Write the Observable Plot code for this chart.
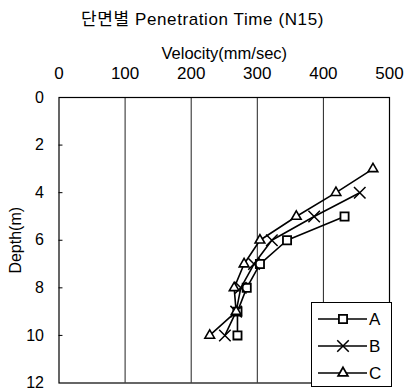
<!DOCTYPE html>
<html>
<head>
<meta charset="utf-8">
<script src="https://cdn.jsdelivr.net/npm/d3@7"></script>
<script src="https://cdn.jsdelivr.net/npm/@observablehq/plot@0.6"></script>
<style>
  html, body { margin: 0; padding: 0; background: #fff; }
  #wrap { position: relative; width: 405px; height: 391px; font-family: "Liberation Sans", Arial, "Noto Sans CJK KR", sans-serif; color: #000; }
  #title { position: absolute; left: 0; top: 5px; width: 405px; text-align: center; font-size: 17px; letter-spacing: 0.6px; white-space: nowrap; }
  #chart { position: absolute; left: 0; top: 0; }
  #legend { position: absolute; left: 0; top: 0; pointer-events: none; }
</style>
</head>
<body>
<div id="wrap">
  <div id="chart"></div>
  <div id="title">단면별 Penetration Time (N15)</div>
  <svg id="legend" width="405" height="391"></svg>
</div>
<script>
// Velocity (mm/sec) measured at each depth (m), one series per section
const seriesNames = ["A", "B", "C"];
const depthA = [5, 6, 7, 8, 9, 10];
const velA   = [432, 345, 304, 284, 270, 270];
const depthB = [4, 5, 6, 7, 8, 9, 10];
const velB   = [455, 386, 322, 295, 275, 268, 251];
const depthC = [3, 4, 5, 6, 7, 8, 9, 10];
const velC   = [475, 419, 359, 304, 280, 265, 268, 228];

const xTicks = [0, 100, 200, 300, 400, 500];
const yTicks = [0, 2, 4, 6, 8, 10, 12];
const gridX  = [100, 200, 300, 400];

const rows = (name, depths, vels) => depths.map((d, i) => ({series: name, depth: d, velocity: vels[i]}));
const dataA = rows("A", depthA, velA);
const dataB = rows("B", depthB, velB);
const dataC = rows("C", depthC, velC);
const all = [...dataA, ...dataB, ...dataC];

const W = 405, H = 391;
const mL = 58.5, mR = 16, mT = 97, mB = 8.5;

const fontFamily = '"Liberation Sans", Arial, "Noto Sans CJK KR", sans-serif';

const chart = Plot.plot({
  width: W,
  height: H,
  marginLeft: mL,
  marginRight: mR,
  marginTop: mT,
  marginBottom: mB,
  style: {fontFamily, fontSize: "17px", background: "white", color: "black", overflow: "visible"},
  x: {domain: [0, 500]},
  y: {domain: [0, 12], reverse: true},
  marks: [
    Plot.ruleX(gridX, {stroke: "#222", strokeWidth: 1}),
    Plot.ruleY(yTicks.slice(1, -1), {x1: 0, x2: 6, stroke: "#000"}),
    Plot.frame({stroke: "#000", strokeWidth: 1.2}),
    Plot.axisX({anchor: "top", ticks: xTicks, tickSize: 0, tickPadding: 19, tickFormat: d => String(d), label: null}),
    Plot.axisY({anchor: "left", ticks: yTicks, tickSize: 0, tickPadding: 15, fontSize: 16, tickFormat: d => String(d), label: null}),
    Plot.text(["Velocity(mm/sec)"], {frameAnchor: "top", dy: -50, fontSize: 16.5, textAnchor: "middle"}),
    Plot.text(["Depth(m)"], {frameAnchor: "left", dx: -43, rotate: -90, fontSize: 16, textAnchor: "middle", style: "letter-spacing:2px"}),
    Plot.line(all, {x: "velocity", y: "depth", z: "series", stroke: "#000", strokeWidth: 1.6}),
    Plot.dot(dataA, {x: "velocity", y: "depth", symbol: "square", r: 4.6, fill: "white", stroke: "#000", strokeWidth: 1.8}),
    Plot.dot(dataB, {x: "velocity", y: "depth", symbol: "times", r: 5.3, stroke: "#000", strokeWidth: 1.5}),
    Plot.dot(dataC, {x: "velocity", y: "depth", symbol: "triangle", r: 3.6, fill: "white", stroke: "#000", strokeWidth: 1.6})
  ]
});
document.getElementById("chart").appendChild(chart);

// Legend box in the lower-right corner of the plot area
const leg = d3.select("#legend");
const box = {x: 311, y: 302, w: 80, h: 84};
leg.append("rect")
  .attr("x", box.x + 0.5).attr("y", box.y + 0.5)
  .attr("width", box.w).attr("height", box.h)
  .attr("fill", "white").attr("stroke", "#000").attr("stroke-width", 1);
const legSymbols = {A: d3.symbolSquare, B: d3.symbolTimes, C: d3.symbolTriangle};
const legSizes = {A: Math.PI * 4.6 * 4.6, B: Math.PI * 5.3 * 5.3, C: Math.PI * 3.6 * 3.6};
const legFill = {A: "white", B: "none", C: "white"};
seriesNames.forEach((name, i) => {
  const cy = box.y + 17 + i * 27;
  const g = leg.append("g");
  g.append("line")
    .attr("x1", box.x + 7).attr("x2", box.x + 56)
    .attr("y1", cy).attr("y2", cy)
    .attr("stroke", "#000").attr("stroke-width", 1.6);
  g.append("path")
    .attr("transform", `translate(${box.x + 32},${cy})`)
    .attr("d", d3.symbol(legSymbols[name], legSizes[name])())
    .attr("fill", legFill[name]).attr("stroke", "#000").attr("stroke-width", name === "B" ? 1.5 : 1.8);
  g.append("text")
    .attr("x", box.x + 58).attr("y", cy)
    .attr("dy", "0.36em")
    .attr("font-family", fontFamily)
    .attr("font-size", 17)
    .text(name);
});
</script>
</body>
</html>
